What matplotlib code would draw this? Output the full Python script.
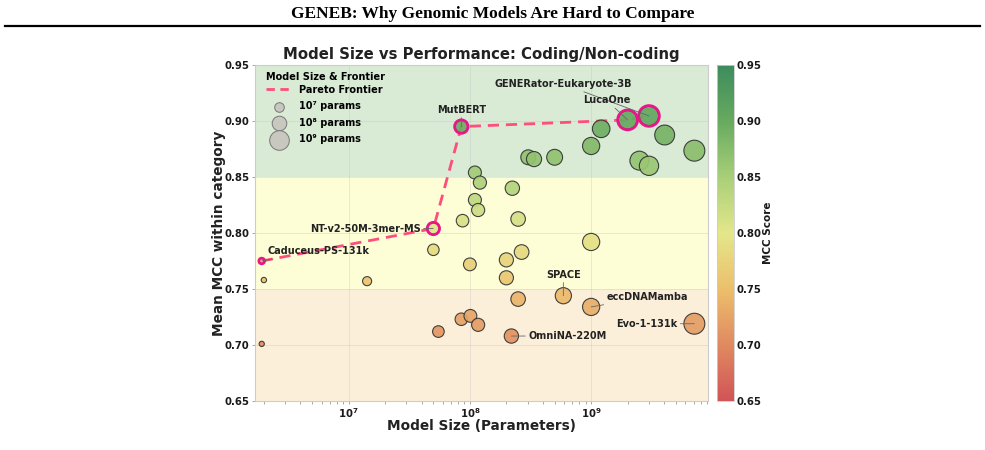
import numpy as np
import matplotlib
matplotlib.use("Agg")
import matplotlib.pyplot as plt
from matplotlib.colors import LinearSegmentedColormap, Normalize
from matplotlib.lines import Line2D

# ---------------- data ----------------
params = [1.92e6, 2.0e6, 1.92e6, 1.42e7, 5.0e7, 5.0e7, 5.5e7, 8.5e7, 8.7e7, 8.5e7,
          1.0e8, 1.01e8, 1.1e8, 1.1e8, 1.17e8, 1.21e8, 1.17e8, 2.0e8, 2.0e8, 2.2e8,
          2.24e8, 2.5e8, 2.5e8, 2.67e8, 3.03e8, 3.38e8, 5.0e8, 5.9e8, 1.0e9, 1.0e9,
          1.0e9, 1.21e9, 2.0e9, 2.5e9, 3.0e9, 3.0e9, 4.04e9, 7.1e9, 7.1e9]
mcc = [0.775, 0.758, 0.701, 0.757, 0.804, 0.785, 0.712, 0.895, 0.811, 0.723,
       0.772, 0.726, 0.854, 0.8295, 0.8205, 0.845, 0.718, 0.776, 0.760, 0.708,
       0.840, 0.8125, 0.741, 0.783, 0.8676, 0.866, 0.8676, 0.744, 0.8777, 0.792,
       0.734, 0.893, 0.901, 0.8646, 0.9045, 0.860, 0.8875, 0.8735, 0.719]
labels = ["Caduceus-PS-131k", "", "", "", "NT-v2-50M-3mer-MS", "", "", "MutBERT", "", "",
          "", "", "", "", "", "", "", "", "", "OmniNA-220M",
          "", "", "", "", "", "", "", "SPACE", "", "",
          "eccDNAMamba", "", "LucaOne", "", "GENERator-Eukaryote-3B", "", "", "", "Evo-1-131k"]
pareto_models = ["Caduceus-PS-131k", "NT-v2-50M-3mer-MS", "MutBERT", "LucaOne",
                 "GENERator-Eukaryote-3B"]
legend_sizes = [1e7, 1e8, 1e9]
legend_labels = ["10⁷ params", "10⁸ params", "10⁹ params"]

# ---------------- style ----------------
plt.rcParams['font.family'] = ['DejaVu Sans']
plt.rcParams['mathtext.default'] = 'bf'

params = np.array(params)
mcc = np.array(mcc)

def size_of(p):
    d_px = 4.4 * (np.log10(p) - 5.09)
    return (d_px * 0.72) ** 2

cmap = LinearSegmentedColormap.from_list(
    "mcc", ["#d15457", "#e08a60", "#ecbf6c", "#e4e68a", "#a8cf78", "#68aa60", "#3d8c5c"])
norm = Normalize(0.65, 0.95)

fig = plt.figure(figsize=(9.85, 4.5), dpi=100)
ax = fig.add_axes([255/985, 1-401/450, 453/985, 336/450])

ax.axhspan(0.85, 0.95, color="#d9ead5", zorder=0, lw=0)
ax.axhspan(0.75, 0.85, color="#fdfdd6", zorder=0, lw=0)
ax.axhspan(0.65, 0.75, color="#fcefd9", zorder=0, lw=0)

ax.set_xscale("log")
ax.set_xlim(1.69e6, 9.2e9)
ax.set_ylim(0.65, 0.95)
ax.set_yticks([0.65, 0.70, 0.75, 0.80, 0.85, 0.90, 0.95])
ax.grid(True, which="major", color="#bbbbbb", alpha=0.35, lw=0.6, zorder=0.5)
ax.set_axisbelow(True)

# pareto frontier
name_idx = {n: i for i, n in enumerate(labels) if n}
pidx = [name_idx[n] for n in pareto_models]
ax.plot(params[pidx], mcc[pidx], ls=(0, (4, 2.5)), color="#ff4d7c", lw=2.0, zorder=2)

ax.scatter(params, mcc, s=size_of(params), c=mcc, cmap=cmap, norm=norm,
           edgecolors="#333333", linewidths=0.8, alpha=0.92, zorder=3)
ax.scatter(params[pidx], mcc[pidx], s=size_of(params[pidx]) * 1.15, facecolors="none",
           edgecolors="#e8168a", linewidths=2.0, zorder=4)

# annotations: (offset in points, ha)
ann = {
    "GENERator-Eukaryote-3B": ((-62, 23), "center"),
    "LucaOne": ((-15, 14), "center"),
    "MutBERT": ((0, 12), "center"),
    "NT-v2-50M-3mer-MS": ((-9, 0), "right"),
    "Caduceus-PS-131k": ((4, 7), "left"),
    "SPACE": ((0, 15), "center"),
    "eccDNAMamba": ((11, 7), "left"),
    "Evo-1-131k": ((-12, 0), "right"),
    "OmniNA-220M": ((12, 0), "left"),
}
for n, (off, ha) in ann.items():
    i = name_idx[n]
    ax.annotate(n, (params[i], mcc[i]), xytext=off, textcoords="offset points",
                ha=ha, va="center", fontsize=7, fontweight="bold", color="#222222",
                arrowprops=dict(arrowstyle="-", color="#666666", lw=0.6,
                                shrinkA=0, shrinkB=0), zorder=5)

for sp in ax.spines.values():
    sp.set_color("#cccccc")
    sp.set_linewidth(0.8)
ax.tick_params(axis="both", which="both", colors="#999999", labelcolor="#1a1a1a",
               labelsize=7.3, width=0.6, pad=1.5)
ax.tick_params(axis="both", which="major", length=2.5)
ax.tick_params(axis="x", which="minor", length=2)
for t in ax.get_yticklabels():
    t.set_fontweight("bold")
for t in ax.get_xticklabels():
    t.set_fontweight("bold")

ax.set_xlabel("Model Size (Parameters)", fontsize=9.8, fontweight="bold", color="#222222",
              labelpad=-1)
ax.set_ylabel("Mean MCC within category", fontsize=9.8, fontweight="bold", color="#222222",
              labelpad=-1)
ax.set_title("Model Size vs Performance: Coding/Non-coding", fontsize=10.7,
             fontweight="bold", color="#222222", pad=4)

# legend
handles = [Line2D([], [], color="#ff4d7c", ls=(0, (3, 2)), lw=2.0, label="Pareto Frontier")]
for p, lab in zip(legend_sizes, legend_labels):
    handles.append(plt.scatter([], [], s=size_of(p) * 1.3, color="#c8c8c0",
                               edgecolors="#777777", linewidths=0.7, label=lab))
leg = ax.legend(handles=handles, loc="upper left", frameon=False,
                title="Model Size & Frontier",
                prop=dict(weight="bold", size=7.0),
                title_fontproperties=dict(weight="bold", size=7.0),
                labelspacing=0.68, handlelength=2.6, handletextpad=0.8,
                borderaxespad=0.3, bbox_to_anchor=(0.01, 1.0))
leg._legend_box.align = "left"
leg._legend_box.sep = 2

# colorbar
cax = fig.add_axes([717/985, 1-401/450, 16.5/985, 336/450])
sm = plt.cm.ScalarMappable(cmap=cmap, norm=norm)
cb = fig.colorbar(sm, cax=cax)
cb.set_ticks([0.65, 0.70, 0.75, 0.80, 0.85, 0.90, 0.95])
cb.outline.set_edgecolor("#cccccc")
cb.outline.set_linewidth(0.6)
cax.tick_params(labelsize=7.3, length=0, colors="#1a1a1a", pad=2)
for t in cax.get_yticklabels():
    t.set_fontweight("bold")
cb.set_label("MCC Score", fontsize=7.5, fontweight="bold", color="#1a1a1a", labelpad=1)

# page header
fig.text(0.5, 1-14/450, "GENEB: Why Genomic Models Are Hard to Compare",
         ha="center", va="center", fontsize=12.5, fontweight="bold",
         family="Liberation Serif", color="black")
fig.add_artist(Line2D([5/985, 980/985], [1-26/450, 1-26/450], color="black", lw=1.6))

fig.savefig("out.png", dpi=100)
